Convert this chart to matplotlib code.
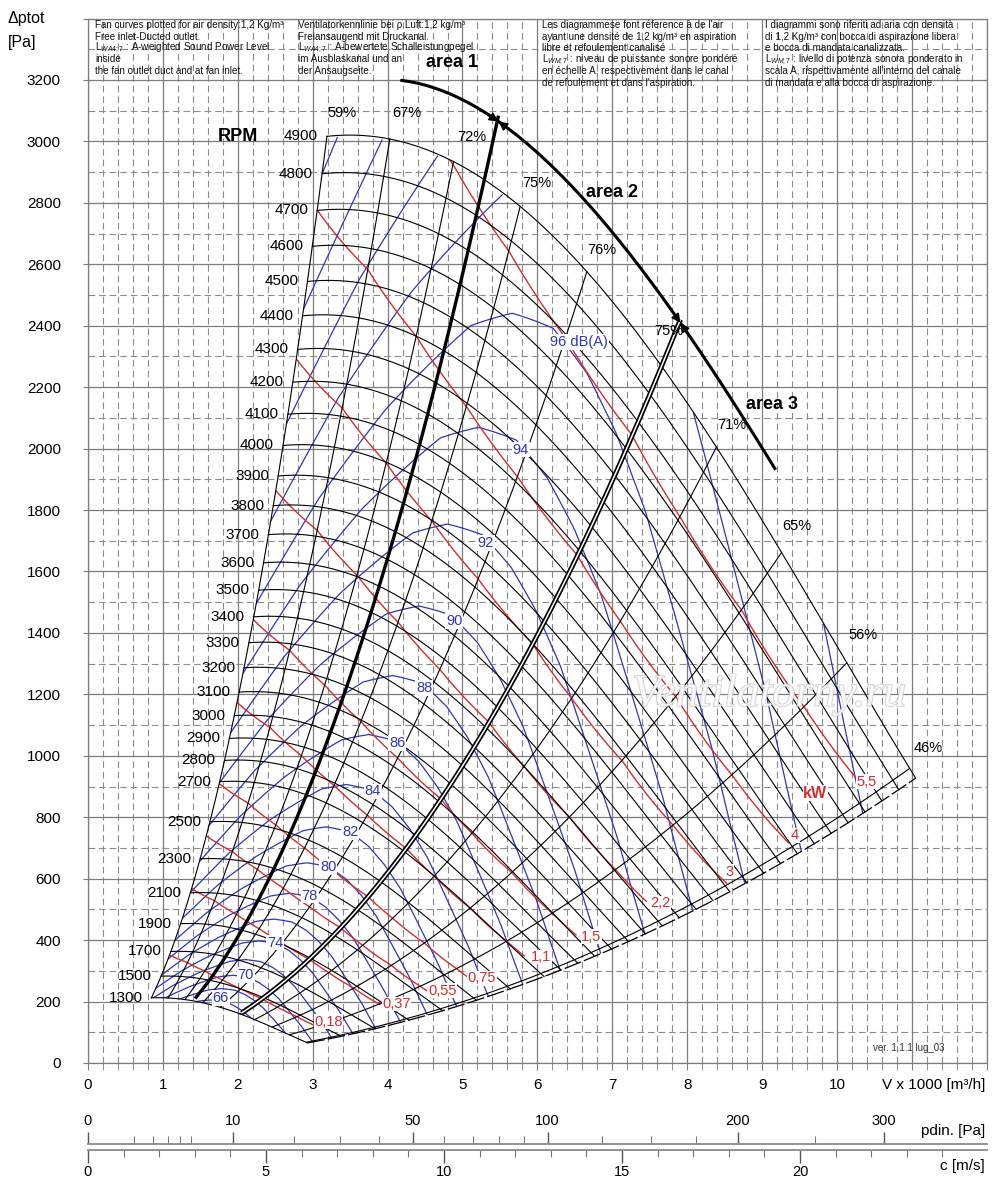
import numpy as np
import matplotlib.pyplot as plt
from matplotlib.patches import Polygon
import matplotlib.patheffects as pe

plt.rcParams['font.family'] = ['Liberation Sans', 'DejaVu Sans']
plt.rcParams['mathtext.fontset'] = 'custom'
plt.rcParams['mathtext.rm'] = 'Liberation Sans'
plt.rcParams['mathtext.it'] = 'Liberation Sans:italic'

# ---------------- values ----------------
# outer fan curve (4900 rpm), V x 1000 m3/h and Pa
curve_v = [3.19, 3.59, 4.03, 4.88, 5.77, 6.66, 7.37, 8.39, 9.26, 10.13, 11.05]
curve_p = [3016, 3023, 3003, 2941, 2782, 2572, 2377, 1997, 1660, 1307, 926]
max_rpm = 4900
rpm_values = [1300, 1500, 1700, 1900, 2100, 2300, 2500, 2700, 2800, 2900,
              3000, 3100, 3200, 3300, 3400, 3500, 3600, 3700, 3800, 3900,
              4000, 4100, 4200, 4300, 4400, 4500, 4600, 4700, 4800, 4900]

# efficiency lines: where each one meets the 4900 rpm curve + label spots
eff_values = [59, 67, 72, 75, 76, 75, 71, 65, 56, 46]
eff_on_curve_v = [3.19, 4.03, 4.88, 5.77, 6.66, 7.65, 8.39, 9.26, 10.13, 10.97]
eff_label_v = [3.39, 4.25, 5.13, 5.99, 6.86, 7.75, 8.60, 9.46, 10.35, 11.22]
eff_label_p = [3093, 3093, 3014, 2866, 2648, 2382, 2078, 1747, 1394, 1026]

# sound power level along the 4900 rpm curve (where blue lines cross it)
snd_on_curve_v = [3.19, 3.34, 3.94, 4.68, 5.55, 6.0, 6.5, 7.0, 7.5, 8.08, 9.82, 11.05]
snd_on_curve_db = [104.5, 104, 102, 100, 98, 97.4, 97.1, 97.2, 97.5, 98, 100, 101.6]
snd_per_decade = 55.8      # dB per decade of speed (spacing of the blue lines)
snd_levels = list(range(66, 106, 2))
snd_text = ['66', '70', '74', '78', '80', '82', '84', '86', '88', '90', '92', '94', '96 dB(A)']
snd_label_v = [1.77, 2.105, 2.50, 2.96, 3.21, 3.50, 3.80, 4.13, 4.49, 4.89, 5.31, 5.78, 6.56]
snd_label_p = [211, 287, 392, 545, 639, 753, 884, 1041, 1220, 1438, 1693, 1997, 2347]

# shaft power lines (kW)
kw_values = [0.18, 0.37, 0.55, 0.75, 1.1, 1.5, 2.2, 3, 4, 5.5]
kw_text = ['0,18', '0,37', '0,55', '0,75', '1,1', '1,5', '2,2', '3', '4', '5,5']
kw_end_v = [3.0, 3.9, 4.52, 5.06, 5.83, 6.52, 7.46, 8.53, 9.37, 10.26]
kw_label_v = [3.21, 4.12, 4.73, 5.26, 6.05, 6.72, 7.64, 8.57, 9.44, 10.40]
kw_label_p = [135, 192, 236, 276, 345, 411, 520, 623, 742, 916]

# thick area boundaries and the arc with arrows
area1_v = [1.43, 3.19, 4.61, 5.48]
area1_p = [203, 1019, 2225, 3063]
area2_v = [2.05, 5.90, 7.91]
area2_p = [162, 1356, 2415]
arc_v = [4.19, 4.8, 5.5, 6.2, 6.9, 7.5, 7.9, 8.5, 9.17]
arc_p = [3202, 3150, 3062, 2930, 2730, 2540, 2410, 2205, 1932]
arc_arrow_v = [5.48, 7.91]
area_names = ['area 1', 'area 2', 'area 3']
area_label_v = [4.855, 6.99, 9.13]
area_label_p = [3258, 2833, 2143]

# bottom scales
air_density = 1.2
c_per_v = 2.104            # m/s per 1000 m3/h
pd_major = [0, 10, 50, 100, 200, 300]
pd_minor = [1, 2, 3, 4, 5, 20, 30, 40, 60, 70, 80, 90, 125, 150, 175, 250]
c_major = [0, 5, 10, 15, 20]
c_minor = [i for i in range(26) if i % 5 != 0]

notes = [
    (95, ["Fan curves plotted for air density:1,2 Kg/m³",
          "Free inlet-Ducted outlet.",
          "L$_{WA4;7}$ : A-weighted Sound Power Level",
          "inside",
          "the fan outlet duct and at fan inlet."]),
    (298, ["Ventilatorkennlinie bei ρ Luft:1,2 kg/m³",
           "Freiansaugend mit Druckanal.",
           "L$_{WA4;7}$ : A-bewertete Schalleistungpegel",
           "im Ausblaskanal und an",
           "der Ansaugseite."]),
    (542, ["Les diagrammese font réference à de l'air",
           "ayant une densité de 1,2 kg/m³ en aspiration",
           "libre et refoulement canalisé",
           "L$_{WM;7}$ : niveau de puissance sonore pondéré",
           "en échelle A, respectivement dans le canal",
           "de refoulement et dans l'aspiration."]),
    (765, ["I diagrammi sono riferiti ad aria con densità",
           "di 1,2 Kg/m³ con bocca di aspirazione libera",
           "e bocca di mandata canalizzata.",
           "L$_{WM;7}$ : livello di potenza sonora ponderato in",
           "scala A, rispettivamente all'interno del canale",
           "di mandata e alla bocca di aspirazione."]),
]

# ---------------- figure ----------------
W, H = 1000, 1199
fig = plt.figure(figsize=(W / 100, H / 100), dpi=100)
ax = fig.add_axes([88 / W, (H - 1063) / H, 12 * 74.9 / W, 3400 * 0.30719 / H])
ax.set_xlim(0, 12)
ax.set_ylim(0, 3400)
ax.set_axisbelow(True)

gcol = '#7d7d7d'
ax.set_xticks(np.arange(0, 13, 1))
ax.set_xticks(np.arange(0, 12.01, 0.2), minor=True)
ax.set_yticks(np.arange(0, 3401, 200))
ax.set_yticks(np.arange(0, 3401, 100), minor=True)
ax.set_xticklabels([str(i) for i in range(11)] + ['', ''])
ax.set_yticklabels([str(v) for v in range(0, 3201, 200)] + [''])
ax.grid(which='major', color=gcol, lw=0.9)
ax.grid(which='minor', color='#8c8c8c', lw=0.8, linestyle=(0, (6, 3.5)))
ax.tick_params(axis='y', which='major', length=3.6, color=gcol, pad=16, labelsize=11)
ax.tick_params(axis='y', which='minor', length=0)
ax.tick_params(axis='x', which='both', length=5, color=gcol, pad=6, labelsize=11)
for s in ax.spines.values():
    s.set_color(gcol)
    s.set_linewidth(0.9)

# smooth outer curve, efficiency / sound / power along it
cv = np.array(curve_v)
fit = np.polyfit(cv, np.array(curve_p), 4)
vb = np.linspace(cv[0], cv[-1], 500)
pb = np.polyval(fit, vb)
eta_b = np.interp(vb, eff_on_curve_v, eff_values)
snd_b = np.interp(vb, snd_on_curve_v, snd_on_curve_db)
kw_b = vb / 3.6 * pb / (eta_b / 100) / 1000

r_min = rpm_values[0] / max_rpm
rr = np.linspace(r_min, 1, 150)

# fan operating field used to clip the lines
verts = np.vstack([
    np.column_stack([vb[0] * rr, pb[0] * rr ** 2]),
    np.column_stack([vb, pb]),
    np.column_stack([vb[-1] * rr[::-1], pb[-1] * rr[::-1] ** 2]),
    np.column_stack([vb[::-1] * r_min, pb[::-1] * r_min ** 2]),
])
field = Polygon(verts, closed=True, facecolor='none', edgecolor='none')
ax.add_patch(field)

# rpm curves
for n in rpm_values:
    r = n / max_rpm
    ax.plot(vb * r, pb * r ** 2, color='black', lw=0.8, zorder=3)
    ax.text(vb[0] * r - 0.12, pb[0] * r ** 2, str(n), ha='right', va='center',
            fontsize=11, zorder=6)

# efficiency lines
for v_on in eff_on_curve_v:
    p_on = np.polyval(fit, v_on)
    ax.plot(v_on * rr, p_on * rr ** 2, color='black', lw=0.8, zorder=3)
for lab, x, y in zip(eff_values, eff_label_v, eff_label_p):
    ax.text(x, y, f'{lab}%', ha='center', va='center', fontsize=10.5, zorder=6)

# lower end of the curves (dashed)
ax.plot(vb[-1] * rr, pb[-1] * rr ** 2, color='black', lw=0.9,
        linestyle=(0, (14, 2.5)), zorder=3)

# sound level lines
for L in snd_levels:
    r = 10 ** ((L - snd_b) / snd_per_decade)
    v = vb * r
    p = pb * r ** 2
    v[r > 1.0] = np.nan
    ln, = ax.plot(v, p, color='#2f36b8', lw=0.9, zorder=2.5)
    ln.set_clip_path(field)
for t, x, y in zip(snd_text, snd_label_v, snd_label_p):
    ax.text(x, y, t, ha='center', va='center', fontsize=10.5, color='#2f36b8', zorder=6,
            bbox=dict(facecolor='white', edgecolor='none', pad=0.6))

# power lines
for P, v_end in zip(kw_values, kw_end_v):
    r = (P / kw_b) ** (1 / 3)
    v = vb * r
    p = pb * r ** 2
    v[(r > 1.0) | (v > v_end)] = np.nan
    ln, = ax.plot(v, p, color='#d42d2d', lw=1.0, zorder=2.7)
    ln.set_clip_path(field)
for t, x, y in zip(kw_text, kw_label_v, kw_label_p):
    ax.text(x, y, t, ha='center', va='center', fontsize=10.5, color='#d42d2d', zorder=6,
            bbox=dict(facecolor='white', edgecolor='none', pad=0.3))
ax.text(9.71, 878, 'kW', ha='center', va='center', fontsize=11.5, fontweight='bold',
        color='#d42d2d', zorder=6, bbox=dict(facecolor='white', edgecolor='none', pad=0.3))

# thick area boundaries (area 1 / area 2 single, area 2 / area 3 double)
a1v, a1p = np.array(area1_v), np.array(area1_p)
k1 = np.sum(a1p * a1v ** 2) / np.sum(a1v ** 4)
vv = np.linspace(a1v[0], a1v[-1], 200)
ax.plot(vv, k1 * vv ** 2, color='black', lw=2.4, zorder=4, solid_capstyle='butt')

a2v, a2p = np.array(area2_v), np.array(area2_p)
k2 = np.sum(a2p * a2v ** 2) / np.sum(a2v ** 4)
vv = np.linspace(a2v[0], a2v[-1], 200)
ax.plot(vv, k2 * vv ** 2, color='black', lw=3.6, zorder=4, solid_capstyle='butt')
ax.plot(vv, k2 * vv ** 2, color='white', lw=1.1, zorder=4.1, solid_capstyle='butt')

# arc with arrows (smoothed through the read points)
arc_fit = np.polyfit(arc_v, arc_p, 3)
va = np.linspace(arc_v[0], arc_v[-1], 200)
ax.plot(va, np.polyval(arc_fit, va), color='black', lw=2.2, zorder=4)
for x_at in arc_arrow_v:
    y_at = np.polyval(arc_fit, x_at)
    for dx in (-0.3, 0.3):
        ax.annotate('', xy=(x_at, y_at), xytext=(x_at + dx, np.polyval(arc_fit, x_at + dx)),
                    zorder=5,
                    arrowprops=dict(arrowstyle='-|>', color='black', lw=1.2,
                                    mutation_scale=13, shrinkA=0, shrinkB=0))
for t, x, y in zip(area_names, area_label_v, area_label_p):
    ax.text(x, y, t, ha='center', va='center', fontsize=13, fontweight='bold', zorder=6)

ax.text(2.0, 3016, 'RPM', ha='center', va='center', fontsize=13, fontweight='bold')
ax.text(10.96, 49, 'ver. 1.1.1 lug_03', ha='center', va='center', fontsize=7, color='#333333')
ax.text(9.1, 1199, 'Ventilatorny.ru', ha='center', va='center', fontsize=33,
        family='Liberation Serif', style='italic', color='white', alpha=0.75, zorder=7,
        path_effects=[pe.withStroke(linewidth=1.2, foreground='#c4c4c4')])

# notes at the top
for x_px, lines in notes:
    for i, line in enumerate(lines):
        fig.text(x_px / W, 1 - (25 + 11.5 * i) / H, line, ha='left', va='center',
                 fontsize=7.1, color='#111111')

fig.text(8 / W, 1 - 18 / H, 'Δptot', ha='left', va='center', fontsize=11.5)
fig.text(8 / W, 1 - 43 / H, '[Pa]', ha='left', va='center', fontsize=11.5)
fig.text(985 / W, 1 - 1085 / H, 'V x 1000 [m³/h]', ha='right', va='center', fontsize=11)

# dynamic pressure and air speed scales
def v_to_c(v):
    return np.asarray(v) * c_per_v

def c_to_v(c):
    return np.asarray(c) / c_per_v

def v_to_pd(v):
    return 0.5 * air_density * (np.asarray(v) * c_per_v) ** 2

def pd_to_v(pd):
    return np.sqrt(np.maximum(pd, 0) / (0.5 * air_density)) / c_per_v

sec_p = ax.secondary_xaxis(-0.0776, functions=(v_to_pd, pd_to_v))
sec_p.set_alignment('top')
sec_p.set_xticks(pd_major, [str(t) for t in pd_major])
sec_p.set_xticks(pd_minor, minor=True)
sec_p.tick_params(which='major', length=8.6, width=1.0, color='#555555', labelsize=10.5, pad=3)
sec_p.tick_params(which='minor', length=5.5, width=0.8, color='#777777')
sec_p.spines['top'].set_color('#8a8a8a')
sec_p.spines['top'].set_linewidth(1.3)

sec_c = ax.secondary_xaxis(-0.0833, functions=(v_to_c, c_to_v))
sec_c.set_xticks(c_major, [str(t) for t in c_major])
sec_c.set_xticks(c_minor, minor=True)
sec_c.tick_params(which='major', length=9.4, width=1.0, color='#555555', labelsize=10.5, pad=1.5)
sec_c.tick_params(which='minor', length=5.0, width=0.8, color='#777777')
sec_c.spines['bottom'].set_color('#8a8a8a')
sec_c.spines['bottom'].set_linewidth(1.3)

fig.text(985 / W, 1 - 1131 / H, 'pdin. [Pa]', ha='right', va='center', fontsize=11)
fig.text(985 / W, 1 - 1166 / H, 'c [m/s]', ha='right', va='center', fontsize=11)

fig.savefig('out.png', dpi=100)
